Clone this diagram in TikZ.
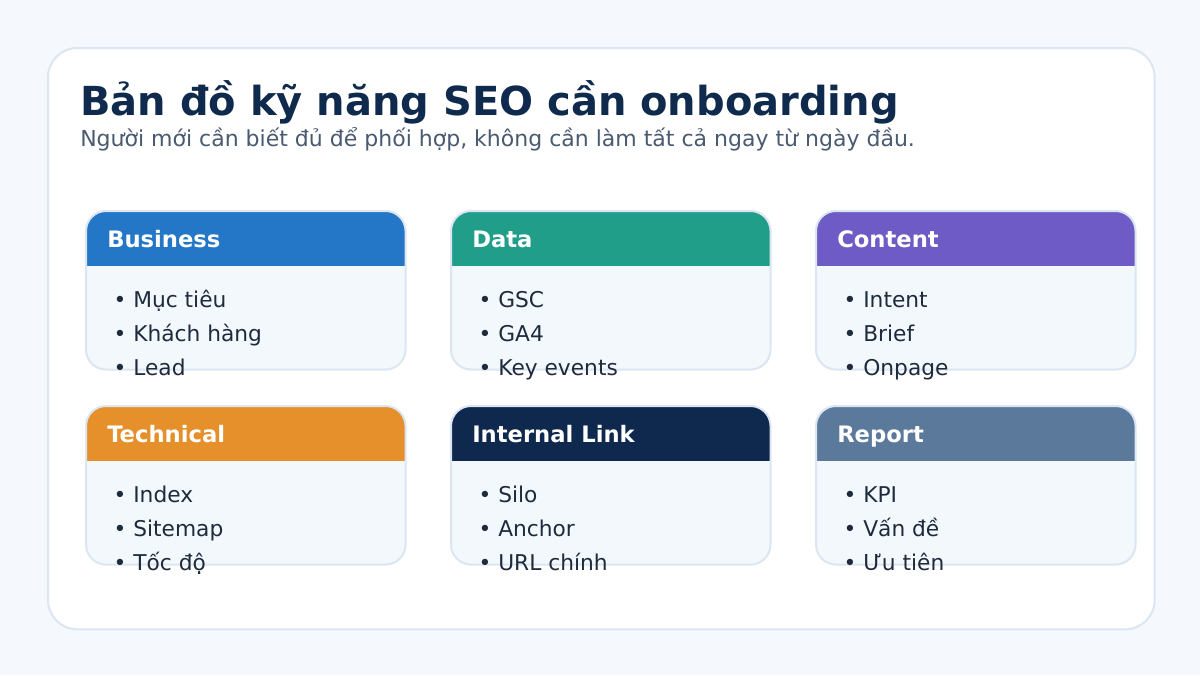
\documentclass[tikz,border=0pt]{standalone}
\usepackage{fontspec}
\setmainfont{DejaVu Sans}
\usetikzlibrary{positioning}
\definecolor{pagebg}{HTML}{F5F9FD}
\definecolor{edge}{HTML}{DCE6F2}
\definecolor{bodybg}{HTML}{F3F8FD}
\definecolor{ink}{HTML}{1E2B3C}
\definecolor{titleink}{HTML}{0F2A4D}
\definecolor{subink}{HTML}{4A5A70}
\definecolor{cBusiness}{HTML}{2477C6}
\definecolor{cData}{HTML}{219E8A}
\definecolor{cContent}{HTML}{6E5BC5}
\definecolor{cTechnical}{HTML}{E5902A}
\definecolor{cLink}{HTML}{0F284D}
\definecolor{cReport}{HTML}{5B7A9B}

% one skill card: name, left x, top y, colour, title, three items
\newcommand{\skillcard}[8]{
  \node[card, anchor=north west] (#1) at (#2,#3) {};
  \begin{scope}
    \clip[rounded corners=15pt] (#1.north west) rectangle (#1.south east);
    \fill[#4] (#1.north west) rectangle ([yshift=-41.25pt]#1.north east);
  \end{scope}
  \draw[edge, line width=1.5pt, rounded corners=15pt] (#1.north west) rectangle (#1.south east);
  \node[head] (#1-head) at ([xshift=15.75pt,yshift=-27.5pt]#2,#3) {#5};
  \node[item] (#1-a) at ([xshift=20.5pt,yshift=-72pt]#2,#3) {• #6};
  \node[item] (#1-b) at ([yshift=-25.5pt]#1-a.base west) {• #7};
  \node[item] (#1-c) at ([yshift=-25.5pt]#1-b.base west) {• #8};
}

\begin{document}
\begin{tikzpicture}[x=0.75pt, y=-0.75pt,
    card/.style={draw=none, fill=bodybg, rectangle, rounded corners=15pt, minimum width=239.25pt, minimum height=118.5pt, inner sep=0pt},
    head/.style={anchor=base west, text=white, font=\fontsize{17}{19}\selectfont\bfseries, inner sep=0pt},
    item/.style={anchor=base west, text=ink, font=\fontsize{16.3}{18}\selectfont, inner sep=0pt}
]
\useasboundingbox (0,0) rectangle (1200,675);
\fill[pagebg] (0,0) rectangle (1200,675);

% outer panel
\node[draw=edge, line width=1.5pt, fill=white, rounded corners=22pt, minimum width=830pt, minimum height=436pt, anchor=north west] (panel) at (47,47) {};

% heading
\node[anchor=base west, inner sep=0pt, text=titleink, font=\fontsize{30}{34}\selectfont\bfseries] (title) at (80,115) {Bản đồ kỹ năng SEO cần onboarding};
\node[anchor=base west, inner sep=0pt, text=subink, font=\fontsize{16.5}{19}\selectfont] (subtitle) at (80,146) {Người mới cần biết đủ để phối hợp, không cần làm tất cả ngay từ ngày đầu.};

% cards
\skillcard{business}{86}{211}{cBusiness}{Business}{Mục tiêu}{Khách hàng}{Lead}
\skillcard{data}{451}{211}{cData}{Data}{GSC}{GA4}{Key events}
\skillcard{content}{816}{211}{cContent}{Content}{Intent}{Brief}{Onpage}
\skillcard{technical}{86}{406}{cTechnical}{Technical}{Index}{Sitemap}{Tốc độ}
\skillcard{link}{451}{406}{cLink}{Internal Link}{Silo}{Anchor}{URL chính}
\skillcard{report}{816}{406}{cReport}{Report}{KPI}{Vấn đề}{Ưu tiên}

\end{tikzpicture}
\end{document}
